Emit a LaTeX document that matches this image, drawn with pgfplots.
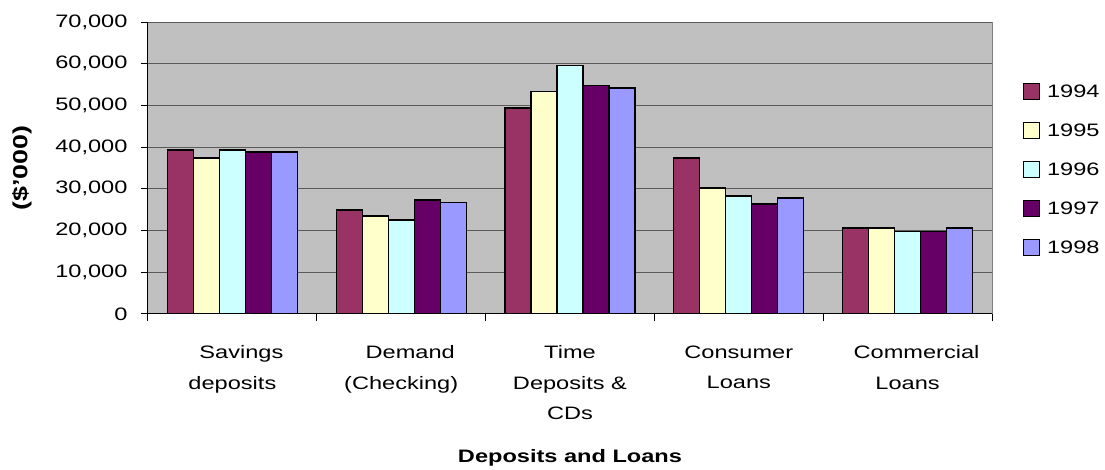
\documentclass[border=0pt]{standalone}
\usepackage{fontspec}
\setmainfont[FakeStretch=1.31]{Liberation Sans}
\usepackage{pgfplots}
\pgfplotsset{compat=1.18}
\definecolor{y94}{HTML}{993366}
\definecolor{y95}{HTML}{FFFFCC}
\definecolor{y96}{HTML}{CCFFFF}
\definecolor{y97}{HTML}{660066}
\definecolor{y98}{HTML}{9999FF}
\definecolor{plotbg}{HTML}{C0C0C0}
\definecolor{gridc}{HTML}{5A5A5A}
\begin{document}
\begin{tikzpicture}
\useasboundingbox (-148pt,-156pt) rectangle (957pt,314pt);
\begin{axis}[
    scale only axis,
    width=844pt, height=292pt,
    ybar=0pt, bar width=26pt,
    xmin=-0.5, xmax=4.5,
    ymin=0, ymax=70000,
    axis background/.style={fill=plotbg, draw=gray, line width=1pt},
    axis x line*=bottom, axis y line*=left,
    axis line style={-, black, line width=1pt},
    tick align=outside,
    major tick length=7pt,
    tick style={black, line width=1pt},
    xtick={-0.5,0.5,...,4.5},
    xticklabels={},
    extra x ticks={0,1,2,3,4},
    extra x tick labels={\hspace*{18pt}Savings\\deposits, \hspace*{18pt}Demand\\(Checking), Time\\Deposits \&\\CDs, Consumer\\Loans, \hspace*{18pt}Commercial\\Loans},
    extra x tick style={major tick length=0pt, grid=none},
    xticklabel style={align=center, yshift=-28pt},
    ytick={0,10000,...,70000},
    ymajorgrids,
    major grid style={gridc, line width=1pt},
    scaled y ticks=false,
    /pgf/number format/assume math mode=true,
    /pgf/number format/fixed,
    /pgf/number format/1000 sep={,},
    yticklabel style={xshift=-10pt},
    tick label style={font=\fontsize{18}{30.5}\selectfont},
    ylabel={(\$'000)},
    ylabel style={at={(rel axis cs:0,0.5)}, anchor=center, yshift=126pt, font=\fontsize{20.5}{24}\selectfont\bfseries},
    xlabel={Deposits and Loans},
    xlabel style={at={(rel axis cs:0.5,0)}, anchor=center, yshift=-144pt, font=\fontsize{18}{22}\selectfont\bfseries},
    legend style={at={(rel axis cs:1.033,0.80)}, anchor=north west, draw=none, fill=none,
        font=\fontsize{18}{22}\selectfont, row sep=20.5pt, legend cell align=left},
    legend image code/.code={\draw[#1, line width=1pt] (0pt,-7pt) rectangle (16pt,9pt);},
    every axis plot/.append style={draw=black, line width=1.3pt},
]
\addplot[fill=y94] coordinates {(0,39300) (1,24900) (2,49400) (3,37400) (4,20600)};
\addplot[fill=y95] coordinates {(0,37400) (1,23500) (2,53300) (3,30200) (4,20600)};
\addplot[fill=y96] coordinates {(0,39300) (1,22500) (2,59500) (3,28300) (4,19700)};
\addplot[fill=y97] coordinates {(0,38800) (1,27300) (2,54700) (3,26400) (4,19700)};
\addplot[fill=y98] coordinates {(0,38800) (1,26800) (2,54200) (3,27800) (4,20600)};
\legend{\hspace{5pt}1994,\hspace{5pt}1995,\hspace{5pt}1996,\hspace{5pt}1997,\hspace{5pt}1998}
\end{axis}
\end{tikzpicture}
\end{document}
